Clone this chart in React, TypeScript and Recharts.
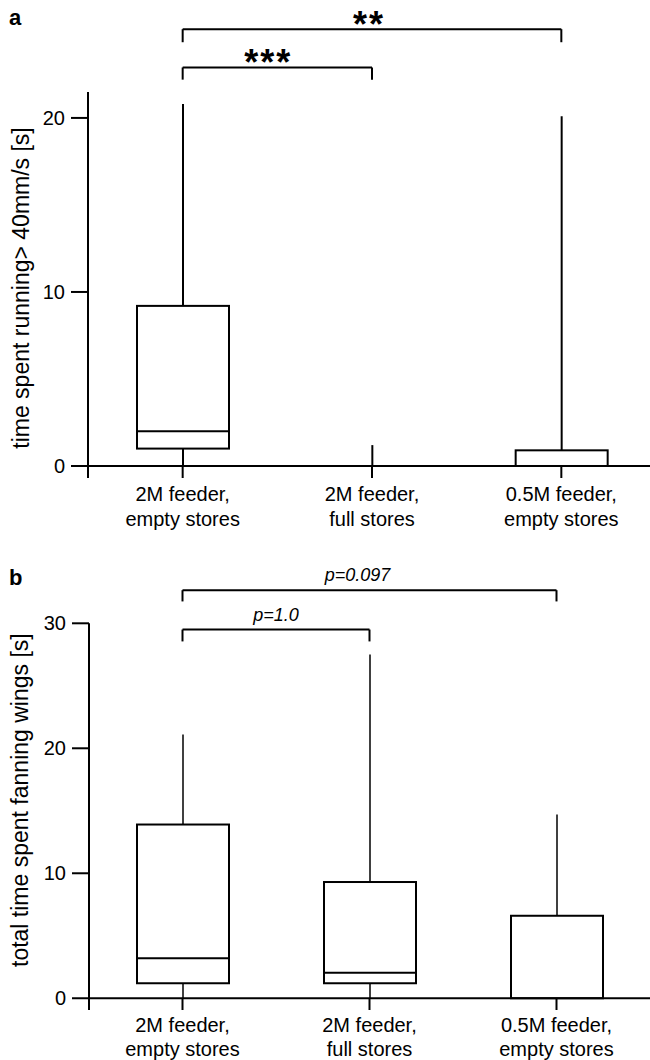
import React from "react";
import { Bar, ComposedChart, ReferenceLine, XAxis, YAxis } from "recharts";

const FONT = "'Liberation Sans', Arial, sans-serif";

const categories = [
  "2M feeder,\nempty stores",
  "2M feeder,\nfull stores",
  "0.5M feeder,\nempty stores",
];

// panel a - time spent running > 40mm/s [s]
const runMin = [0, 0, 0];
const runQ1 = [1, 0, 0];
const runMedian = [2, 0, 0];
const runQ3 = [9.2, 0, 0.9];
const runMax = [20.8, 1.2, 20.1];
const runTicks = [0, 10, 20];

// panel b - total time spent fanning wings [s]
const fanMin = [0, 0, 0];
const fanQ1 = [1.2, 1.2, 0];
const fanMedian = [3.2, 2.05, 0];
const fanQ3 = [13.9, 9.3, 6.6];
const fanMax = [21.1, 27.5, 14.7];
const fanTicks = [0, 10, 20, 30];

// significance brackets: category indices, bar height, leg end, label
const runBrackets = [
  { from: 0, to: 2, level: 25.1, leg: 24.35, text: "**", dx: -3 },
  { from: 0, to: 1, level: 22.9, leg: 22.2, text: "***", dx: -9 },
];
const fanBrackets = [
  { from: 0, to: 2, level: 32.65, leg: 31.75, text: "p=0.097", dx: -12 },
  { from: 0, to: 1, level: 29.5, leg: 28.55, text: "p=1.0", dx: 0 },
];

const buildRows = (mn, q1, med, q3, mx) =>
  categories.map((name, i) => ({
    name,
    min: mn[i],
    q1: q1[i],
    median: med[i],
    q3: q3[i],
    max: mx[i],
  }));

const runRows = buildRows(runMin, runQ1, runMedian, runQ3, runMax);
const fanRows = buildRows(fanMin, fanQ1, fanMedian, fanQ3, fanMax);

function BoxShape(props) {
  const { x, y, width, height, payload, whisker } = props;
  const { min, q1, median, q3, max } = payload;
  // bar spans [min, max]; map the inner stats on the same scale
  const k = height / (max - min);
  const py = (v) => y + (max - v) * k;
  const cx = x + width / 2;
  return (
    <g>
      <line x1={cx} x2={cx} y1={py(max)} y2={py(q3)} stroke="#000" strokeWidth={whisker} />
      <line x1={cx} x2={cx} y1={py(q1)} y2={py(min)} stroke="#000" strokeWidth={whisker} />
      {q3 > q1 && (
        <rect
          x={x}
          y={py(q3)}
          width={width}
          height={py(q1) - py(q3)}
          fill="#fff"
          stroke="#000"
          strokeWidth={2}
        />
      )}
      {q3 > q1 && median > q1 && (
        <line x1={x} x2={x + width} y1={py(median)} y2={py(median)} stroke="#000" strokeWidth={2} />
      )}
    </g>
  );
}

const categoryTick = (first, gap) => (props) => {
  const { x, y, payload } = props;
  const lines = String(payload.value).split("\n");
  return (
    <g>
      <line x1={x} x2={x} y1={y - 12} y2={y} stroke="#000" strokeWidth={2} />
      {lines.map((t, i) => (
        <text
          key={i}
          x={x}
          y={y + first + i * gap}
          textAnchor="middle"
          fontSize={20}
          fontFamily={FONT}
          fill="#000"
        >
          {t}
        </text>
      ))}
    </g>
  );
};

const yLabel = (text, dy) => (p) => {
  const vb = p.viewBox;
  const bx = vb.x + 28.5;
  const cy = vb.y + vb.height / 2 + dy;
  return (
    <text
      x={bx}
      y={cy}
      transform={`rotate(-90, ${bx}, ${cy})`}
      textAnchor="middle"
      fontSize={23}
      fontFamily={FONT}
      fill="#000"
    >
      {text}
    </text>
  );
};

function bracketLines(list, style) {
  return list.flatMap((b, i) => {
    const a = categories[b.from];
    const c = categories[b.to];
    return [
      <ReferenceLine
        key={`h${i}`}
        segment={[
          { x: a, y: b.level },
          { x: c, y: b.level },
        ]}
        stroke="#000"
        strokeWidth={2}
        ifOverflow="visible"
        label={(p) => {
          const vb = p.viewBox;
          return (
            <text
              x={vb.x + vb.width / 2 + b.dx}
              y={vb.y + style.dy}
              textAnchor="middle"
              fontSize={style.fontSize}
              fontWeight={style.fontWeight}
              fontStyle={style.fontStyle}
              fontFamily={FONT}
              letterSpacing={style.letterSpacing}
              fill="#000"
            >
              {b.text}
            </text>
          );
        }}
      />,
      <ReferenceLine
        key={`l${i}`}
        segment={[
          { x: a, y: b.level },
          { x: a, y: b.leg },
        ]}
        stroke="#000"
        strokeWidth={2}
        ifOverflow="visible"
      />,
      <ReferenceLine
        key={`r${i}`}
        segment={[
          { x: c, y: b.level },
          { x: c, y: b.leg },
        ]}
        stroke="#000"
        strokeWidth={2}
        ifOverflow="visible"
      />,
    ];
  });
}

function BoxPanel({ rows, width, height, top, yWidth, xHeight, domain, ticks, label, labelDy, whisker, brackets, bracketStyle, tickFirst, tickGap }) {
  return (
    <ComposedChart
      width={width}
      height={height}
      data={rows}
      margin={{ top, right: 0, bottom: 0, left: 0 }}
      barCategoryGap={0}
    >
      <XAxis
        dataKey="name"
        height={xHeight}
        axisLine={false}
        tickLine={false}
        tickSize={0}
        tickMargin={0}
        interval={0}
        tick={categoryTick(tickFirst, tickGap)}
      />
      <YAxis
        type="number"
        width={yWidth}
        domain={domain}
        ticks={ticks}
        allowDataOverflow
        interval={0}
        tickSize={17}
        tickMargin={6}
        axisLine={{ stroke: "#000", strokeWidth: 2 }}
        tickLine={{ stroke: "#000", strokeWidth: 2 }}
        tick={{ fill: "#000", fontSize: 20, fontFamily: FONT }}
        label={yLabel(label, labelDy)}
      />
      <Bar
        dataKey={(d) => [d.min, d.max]}
        barSize={92}
        isAnimationActive={false}
        shape={(p) => <BoxShape {...p} whisker={whisker} />}
      />
      <ReferenceLine y={0} stroke="#000" strokeWidth={2} />
      {bracketLines(brackets, bracketStyle)}
    </ComposedChart>
  );
}

export default function App() {
  return (
    <div
      style={{
        position: "absolute",
        left: 0,
        top: 0,
        width: 650,
        height: 1060,
        overflow: "hidden",
        background: "#fff",
      }}
    >
      <div style={{ position: "absolute", left: 0, top: 0 }}>
        <BoxPanel
          rows={runRows}
          width={656}
          height={540}
          top={92}
          yWidth={88}
          xHeight={62}
          domain={[-0.69, 21.49]}
          ticks={runTicks}
          label="time spent running> 40mm/s [s]"
          labelDy={3}
          whisker={2}
          brackets={runBrackets}
          bracketStyle={{ fontSize: 36, fontWeight: "bold", fontStyle: "normal", dy: 8, letterSpacing: 2 }}
          tickFirst={23}
          tickGap={25}
        />
      </div>
      <div style={{ position: "absolute", left: 0, top: 540 }}>
        <BoxPanel
          rows={fanRows}
          width={650}
          height={520}
          top={83.3}
          yWidth={89}
          xHeight={50}
          domain={[-0.94, 30]}
          ticks={fanTicks}
          label="total time spent fanning wings [s]"
          labelDy={-16.5}
          whisker={1.5}
          brackets={fanBrackets}
          bracketStyle={{ fontSize: 18, fontWeight: "normal", fontStyle: "italic", dy: -9, letterSpacing: 0 }}
          tickFirst={22}
          tickGap={24}
        />
      </div>
      <svg
        width={650}
        height={1060}
        style={{ position: "absolute", left: 0, top: 0, pointerEvents: "none" }}
      >
        <text x={9} y={25} fontSize={22} fontWeight="bold" fontFamily={FONT} fill="#000">
          a
        </text>
        <text x={9} y={585} fontSize={22} fontWeight="bold" fontFamily={FONT} fill="#000">
          b
        </text>
      </svg>
    </div>
  );
}
